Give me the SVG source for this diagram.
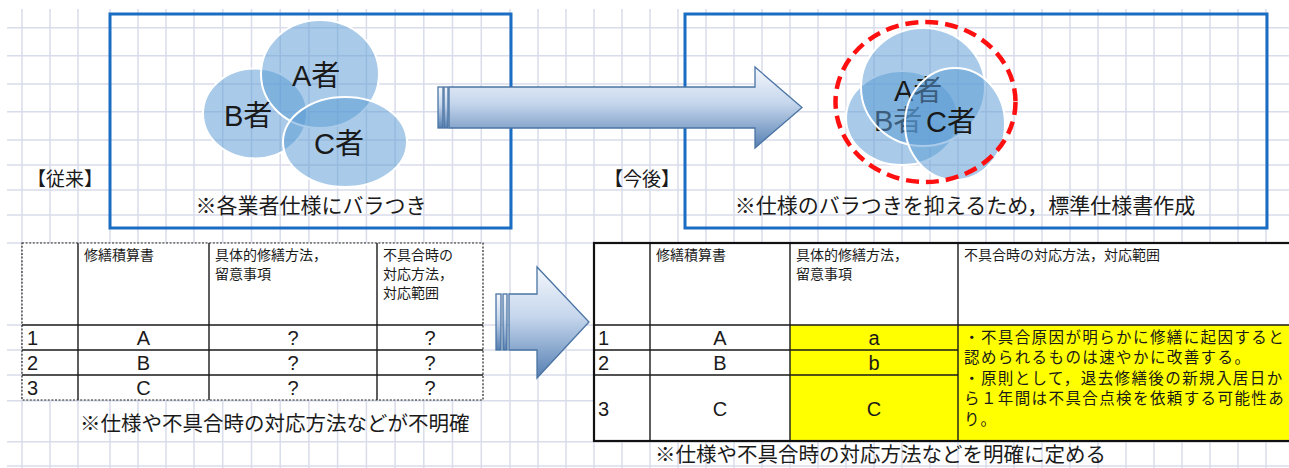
<svg xmlns="http://www.w3.org/2000/svg" width="1289" height="468" viewBox="0 0 1289 468">
<defs>
<linearGradient id="arrowGrad" x1="0" y1="0" x2="0" y2="1">
<stop offset="0" stop-color="#f4f7fc"/>
<stop offset="0.45" stop-color="#c5d6ec"/>
<stop offset="1" stop-color="#557fb2"/>
</linearGradient>
<style>
.grid{stroke:#d9dcea;stroke-width:1.5;fill:none}
.box{fill:none;stroke:#1a6dc2;stroke-width:3}
.ell{fill:#5b9bd5;fill-opacity:0.52;stroke:#ffffff;stroke-width:2}
.arrow{fill:url(#arrowGrad);stroke:#4a74a4;stroke-width:1.3}
.jp{font-family:"Liberation Sans","Noto Sans CJK JP",sans-serif;fill:#1a1a1a}
.venn{font-size:29px}
.cap{font-size:21px}
.cap2{font-size:20.5px}
.lbl{font-size:19px}
.hdr{font-size:14px}
.dat{font-size:20px}
.note{font-size:15.5px;letter-spacing:1.4px}
.tbl{fill:#ffffff}
.dot{fill:none;stroke:#222;stroke-width:1.2;stroke-dasharray:2 1.6}
.ln{stroke:#1a1a1a;stroke-width:1.4;fill:none}
.thick{fill:none;stroke:#111;stroke-width:2.2}
</style>
</defs>
<rect width="1289" height="468" fill="#ffffff"/>
<g id="grid">
<path class="grid" d="M22 9V468M50 9V468M78 9V468M110 9V468M138 9V468M166 9V468M194 9V468M222.7 9V468M251.5 9V468M280.2 9V468M308.9 9V468M337.6 9V468M366.4 9V468M395.1 9V468M423.8 9V468M452.5 9V468M481.3 9V468M510 9V468M538 9V468M566 9V468M594 9V468M622 9V468M650 9V468M678 9V468M706 9V468M734 9V468M762 9V468M790 9V468M818 9V468M846 9V468M874 9V468M902 9V468M930 9V468M958 9V468M986 9V468M1014 9V468M1042 9V468M1070 9V468M1098 9V468M1126 9V468M1154 9V468M1182 9V468M1210 9V468M1238 9V468M1266 9V468"/>
<path class="grid" d="M7 27.7H1289M7 55.7H1289M7 84H1289M7 111.7H1289M7 140H1289M7 165H1289M7 190H1289M7 215H1289M7 243H1289M7 325H1289M7 350H1289M7 375H1289M7 400.7H1289M7 441.7H1289M7 466H1289"/>
</g>
<g id="before-box">
<rect class="box" x="110" y="14" width="401" height="214"/>
<text class="jp lbl" x="27" y="186">【従来】</text>
<text class="jp cap" x="311" y="213" text-anchor="middle">※各業者仕様にバラつき</text>
</g>
<g id="before-venn">
<ellipse class="ell" cx="255" cy="113.5" rx="52" ry="45"/>
<ellipse class="ell" cx="320" cy="74" rx="59" ry="54"/>
<ellipse class="ell" cx="345" cy="142" rx="62" ry="45"/>
<text class="jp venn" x="292" y="86">A者</text>
<text class="jp venn" x="224" y="126">B者</text>
<text class="jp venn" x="314" y="154">C者</text>
</g>
<g id="after-box">
<rect class="box" x="685" y="14" width="582" height="214"/>
<text class="jp lbl" x="604" y="186">【今後】</text>
<text class="jp cap" x="965" y="213" text-anchor="middle">※仕様のバラつきを抑えるため，標準仕様書作成</text>
</g>
<g id="after-venn">
<ellipse class="ell" cx="902" cy="118" rx="56" ry="47"/>
<text class="jp venn" x="874" y="131">B者</text>
<ellipse class="ell" cx="923" cy="87" rx="62" ry="59"/>
<text class="jp venn" x="894" y="101">A者</text>
<ellipse class="ell" cx="955" cy="124" rx="50" ry="56"/>
<text class="jp venn" x="926" y="132">C者</text>
<ellipse cx="925.5" cy="102" rx="90" ry="80" fill="none" stroke="#ff1010" stroke-width="4.5" stroke-dasharray="13 7"/>
</g>
<g id="table-before">
<rect class="tbl" x="22" y="243" width="461" height="157"/>
<path class="ln" d="M78 243V400M209 243V400M377 243V400M22 325H483M22 350H483M22 375H483"/>
<rect class="dot" x="22" y="243" width="461" height="157"/>
<text class="jp hdr" x="84" y="260">修繕積算書</text>
<text class="jp hdr" x="215" y="260">具体的修繕方法，</text>
<text class="jp hdr" x="215" y="279">留意事項</text>
<text class="jp hdr" x="383" y="260">不具合時の</text>
<text class="jp hdr" x="383" y="279">対応方法，</text>
<text class="jp hdr" x="383" y="298">対応範囲</text>
<text class="jp dat" x="27" y="345">1</text>
<text class="jp dat" x="27" y="370">2</text>
<text class="jp dat" x="27" y="395">3</text>
<text class="jp dat" x="143.5" y="345" text-anchor="middle">A</text>
<text class="jp dat" x="143.5" y="370" text-anchor="middle">B</text>
<text class="jp dat" x="143.5" y="395" text-anchor="middle">C</text>
<text class="jp dat" x="293" y="345" text-anchor="middle">?</text>
<text class="jp dat" x="293" y="370" text-anchor="middle">?</text>
<text class="jp dat" x="293" y="395" text-anchor="middle">?</text>
<text class="jp dat" x="430" y="345" text-anchor="middle">?</text>
<text class="jp dat" x="430" y="370" text-anchor="middle">?</text>
<text class="jp dat" x="430" y="395" text-anchor="middle">?</text>
<text class="jp cap2" x="80" y="431">※仕様や不具合時の対応方法などが不明確</text>
</g>
<g id="table-after">
<rect class="tbl" x="594" y="243" width="700" height="198"/>
<rect x="790" y="325" width="504" height="116" fill="#ffff00"/>
<path class="ln" d="M650 243V441M790 243V441M958 243V441M594 325H1294M594 350H958M594 375H958"/>
<rect class="thick" x="594" y="243" width="700" height="198"/>
<text class="jp hdr" x="656" y="260">修繕積算書</text>
<text class="jp hdr" x="796" y="260">具体的修繕方法，</text>
<text class="jp hdr" x="796" y="279">留意事項</text>
<text class="jp hdr" x="964" y="260">不具合時の対応方法，対応範囲</text>
<text class="jp dat" x="598" y="345">1</text>
<text class="jp dat" x="598" y="370">2</text>
<text class="jp dat" x="598" y="416">3</text>
<text class="jp dat" x="720" y="345" text-anchor="middle">A</text>
<text class="jp dat" x="720" y="370" text-anchor="middle">B</text>
<text class="jp dat" x="720" y="416" text-anchor="middle">C</text>
<text class="jp dat" x="874" y="345" text-anchor="middle">a</text>
<text class="jp dat" x="874" y="370" text-anchor="middle">b</text>
<text class="jp dat" x="874" y="416" text-anchor="middle">C</text>
<text class="jp note" x="964" y="343">・不具合原因が明らかに修繕に起因すると</text>
<text class="jp note" x="964" y="363">認められるものは速やかに改善する。</text>
<text class="jp note" x="964" y="384">・原則として，退去修繕後の新規入居日か</text>
<text class="jp note" x="964" y="404">ら１年間は不具合点検を依頼する可能性あ</text>
<text class="jp note" x="964" y="425">り。</text>
<text class="jp cap2" x="655" y="462">※仕様や不具合時の対応方法などを明確に定める</text>
</g>
<g id="connectors">
<g id="arrow-top">
<rect class="arrow" x="438" y="87" width="5" height="41"/>
<rect class="arrow" x="444" y="87" width="4" height="41"/>
<path class="arrow" d="M449 87H755V67L802 107.5L755 148V128H449Z"/>
</g>
<g id="arrow-bottom">
<rect class="arrow" x="496" y="294" width="5" height="56"/>
<rect class="arrow" x="503" y="294" width="4" height="56"/>
<path class="arrow" d="M509 294H537V267L589 322L537 378V350H509Z"/>
</g>
</g>
</svg>
